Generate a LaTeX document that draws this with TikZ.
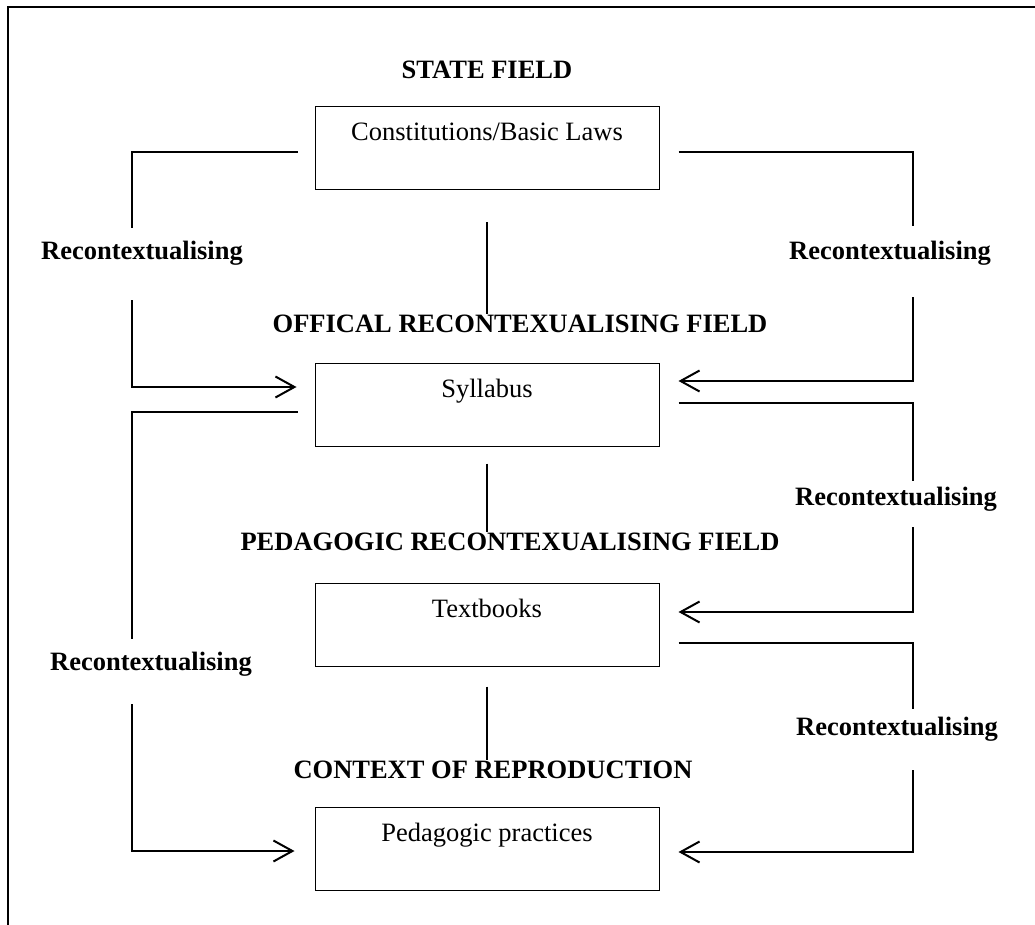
\documentclass[tikz,border=0pt]{standalone}
\usepackage{fontspec}
\setmainfont{Liberation Serif}
\usetikzlibrary{arrows.meta}

\begin{document}
\begin{tikzpicture}[x=1pt,y=-1pt,
    font=\fontsize{26.5}{30}\selectfont,
    field/.style={draw,line width=1pt,minimum width=344pt,inner xsep=0pt,inner ysep=0pt,
      text height=34pt,text depth=49pt},
    head/.style={font=\fontsize{26.5}{30}\selectfont\bfseries,inner sep=0pt,anchor=base},
    recon/.style={font=\fontsize{26.5}{30}\selectfont\bfseries,inner sep=0pt,anchor=base},
    link/.style={line width=2pt},
    thinlink/.style={line width=1.2pt},
    feed/.style={line width=2pt,-{Straight Barb[length=19pt,width=21pt]}}]
        \useasboundingbox (0,0) rectangle (1035,925);
        % Frame (top and left edge only)
        \draw[line width=1.2pt] (1035,7) -- (8,7) -- (8,925);

        % Fields
        \node[field] (cons) at (487,148.5) {Constitutions/Basic Laws};
        \node[field] (syl) at (487,404.5) {Syllabus};
        \node[field] (txt) at (487,624.5) {Textbooks};
        \node[field] (ped) at (487,848.5) {Pedagogic practices};

        % Headings
        \node[head] (state) at (487,79) {STATE FIELD};
        \node[head] (offic) at (520,332) {OFFICAL RECONTEXUALISING FIELD};
        \node[head] (pedag) at (510,550) {PEDAGOGIC RECONTEXUALISING FIELD};
        \node[head] (repro) at (493,778) {CONTEXT OF REPRODUCTION};

        % Labels
        \node[recon] (rcA) at (142,259) {Recontextualising};
        \node[recon] (rcB) at (890,259) {Recontextualising};
        \node[recon] (rcC) at (896,505) {Recontextualising};
        \node[recon] (rcD) at (151,670) {Recontextualising};
        \node[recon] (rcE) at (897,735) {Recontextualising};
        \coordinate (colL) at (132,0);
        \coordinate (colR) at (913,0);

        % Centre stems
        \draw[thinlink,shorten <=32pt] (cons.south) -- (cons.south |- offic.north);
        \draw[thinlink,shorten <=17pt] (syl.south) -- (syl.south |- pedag.north);
        \draw[thinlink,shorten <=20pt] (txt.south) -- (txt.south |- repro.north);

        % Left side
        \draw[link,shorten >=12pt] ([xshift=-17pt,yshift=-3.5pt]cons.west) -| (colL |- rcA.north);
        \draw[feed,shorten <=35pt,shorten >=18pt] (colL |- rcA.south) |- ([yshift=17.5pt]syl.west);
        \draw[link,shorten >=12pt] ([xshift=-17pt,yshift=-7.5pt]syl.west) -| (colL |- rcD.north);
        \draw[feed,shorten <=28pt,shorten >=20pt] (colL |- rcD.south) |- ([yshift=-2.5pt]ped.west);

        % Right side
        \draw[link,shorten >=14pt] ([xshift=19pt,yshift=-3.5pt]cons.east) -| (colR |- rcB.north);
        \draw[feed,shorten <=32pt,shorten >=19pt] (colR |- rcB.south) |- ([yshift=23.5pt]syl.east);
        \draw[thinlink,shorten >=5pt] ([xshift=19pt,yshift=1.5pt]syl.east) -| (colR |- rcC.north);
        \draw[feed,shorten <=16pt,shorten >=19pt] (colR |- rcC.south) |- ([yshift=12.5pt]txt.east);
        \draw[thinlink,shorten >=7pt] ([xshift=19pt,yshift=-18.5pt]txt.east) -| (colR |- rcE.north);
        \draw[feed,shorten <=29pt,shorten >=19pt] (colR |- rcE.south) |- ([yshift=-3.5pt]ped.east);
\end{tikzpicture}
\end{document}
